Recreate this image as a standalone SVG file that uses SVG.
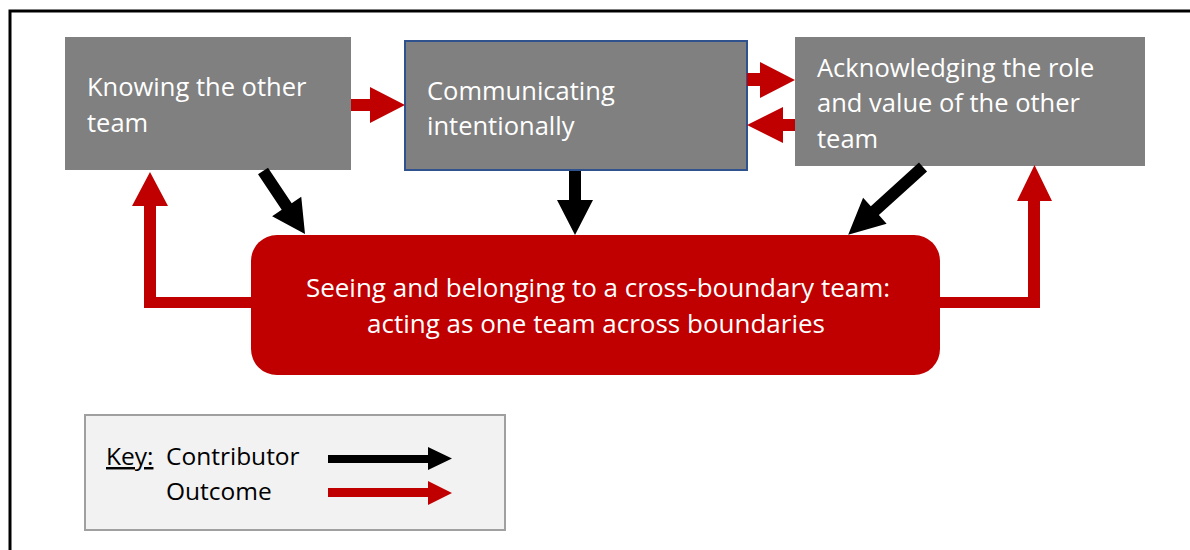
<svg xmlns="http://www.w3.org/2000/svg" width="1190" height="550" viewBox="0 0 1190 550">
<style>
.box{fill:#808080;}
.bt{font-family:"Open Sans","Liberation Sans",sans-serif;font-size:25.5px;fill:#FFFFFF;}
.mt{font-family:"Open Sans","Liberation Sans",sans-serif;font-size:26px;fill:#FFFFFF;text-anchor:middle;}
.kt{font-family:"Open Sans","Liberation Sans",sans-serif;font-size:24.5px;fill:#000000;}
.red{fill:#C00000;}
.blk{fill:#000000;}
</style>
<rect width="1190" height="550" fill="#FFFFFF"/>
<rect x="10" y="11" width="1200" height="560" fill="none" stroke="#000000" stroke-width="3"/>

<g id="knowing">
<rect class="box" x="65" y="37" width="286" height="133"/>
<text class="bt" x="87" y="96">Knowing the other</text>
<text class="bt" x="87" y="132">team</text>
</g>

<g id="communicating">
<rect class="box" x="405" y="41" width="342" height="129" stroke="#2F528F" stroke-width="2"/>
<text class="bt" x="427" y="100">Communicating</text>
<text class="bt" x="427" y="135">intentionally</text>
</g>

<g id="acknowledging">
<rect class="box" x="795" y="37" width="350" height="129"/>
<text class="bt" x="817" y="77">Acknowledging the role</text>
<text class="bt" x="817" y="112">and value of the other</text>
<text class="bt" x="817" y="148">team</text>
</g>

<g id="seeing">
<rect class="red" x="251" y="235" width="689" height="140" rx="26" ry="26"/>
<text class="mt" x="598" y="297">Seeing and belonging to a cross-boundary team:</text>
<text class="mt" x="596" y="333">acting as one team across boundaries</text>
</g>

<g id="connectors">
<polygon class="red" points="351,99 370,99 370,87 405,105 370,123 370,111 351,111"/>
<polygon class="red" points="747,73 760,73 760,62 795,80 760,98 760,86 747,86"/>
<polygon class="red" points="795,119 783,119 783,107 747,125 783,143 783,131 795,131"/>
<polygon class="red" points="251,297 156,297 156,206 168,206 150,172 132,206 144,206 144,308 251,308"/>
<polygon class="red" points="940,297 1028,297 1028,201 1017,201 1034.5,165 1052,201 1040,201 1040,308 940,308"/>
<polygon class="blk" transform="translate(263,171) rotate(56.3)" points="0,-6 42.7,-6 42.7,-17.5 75.7,0 42.7,17.5 42.7,6 0,6"/>
<polygon class="blk" transform="translate(575,171) rotate(90)" points="0,-6 29,-6 29,-18 64,0 29,18 29,6 0,6"/>
<polygon class="blk" transform="translate(923,167) rotate(137.8)" points="0,-6 65,-6 65,-17.5 101,0 65,17.5 65,6 0,6"/>
</g>

<g id="key">
<rect x="85" y="415" width="420" height="115" fill="#F2F2F2" stroke="#A0A0A0" stroke-width="2"/>
<text class="kt" x="106" y="465" text-decoration="underline">Key:</text>
<text class="kt" x="166" y="465">Contributor</text>
<text class="kt" x="166" y="500">Outcome</text>
<polygon class="blk" points="328,455 428,455 428,447 452,458.5 428,470 428,463 328,463"/>
<polygon class="red" points="328,488 428,488 428,481 452,493 428,505 428,497 328,497"/>
</g>
</svg>
